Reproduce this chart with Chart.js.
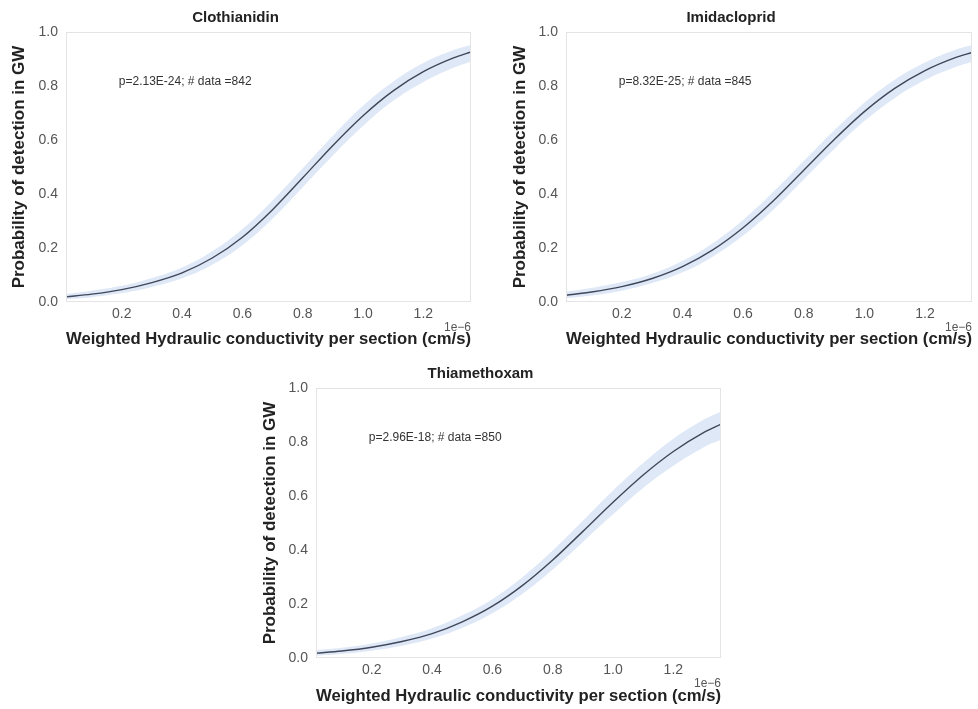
<!DOCTYPE html>
<html>
<head>
<meta charset="utf-8">
<script src="https://cdn.jsdelivr.net/npm/chart.js@4.4.1/dist/chart.umd.min.js"></script>
<style>
  body { margin: 0; background: #fff; }
  #wrap { position: relative; width: 978px; height: 709px; }
  .box { position: absolute; }
</style>
</head>
<body>
<div id="wrap">
  <div class="box" style="left:0;top:0;width:490px;height:355px"><canvas id="c1"></canvas></div>
  <div class="box" style="left:490px;top:0;width:488px;height:355px"><canvas id="c2"></canvas></div>
  <div class="box" style="left:240px;top:355px;width:500px;height:354px"><canvas id="c3"></canvas></div>
</div>
<script>
// ---- data (x in units of 1e-6 cm/s) ----
var titles = ['Clothianidin', 'Imidacloprid', 'Thiamethoxam'];
var notes = ['p=2.13E-24; # data =842', 'p=8.32E-25; # data =845', 'p=2.96E-18; # data =850'];
var xTicks = [0.2, 0.4, 0.6, 0.8, 1.0, 1.2];
var yTicks = [0.0, 0.2, 0.4, 0.6, 0.8, 1.0];

var x1 = [0.015, 0.1, 0.2, 0.3, 0.4, 0.5, 0.6, 0.7, 0.8, 0.9, 1.0, 1.1, 1.2, 1.3, 1.358];
var p1 = [0.019, 0.029, 0.046, 0.072, 0.108, 0.163, 0.240, 0.342, 0.460, 0.580, 0.690, 0.782, 0.853, 0.904, 0.926];
var lo1 = [0.010, 0.018, 0.033, 0.056, 0.088, 0.138, 0.210, 0.308, 0.425, 0.543, 0.652, 0.745, 0.815, 0.868, 0.890];
var hi1 = [0.030, 0.042, 0.060, 0.089, 0.128, 0.188, 0.270, 0.376, 0.495, 0.616, 0.727, 0.816, 0.885, 0.933, 0.952];

var x2 = [0.016, 0.1, 0.2, 0.3, 0.4, 0.5, 0.6, 0.7, 0.8, 0.9, 1.0, 1.1, 1.2, 1.3, 1.355];
var p2 = [0.025, 0.037, 0.057, 0.087, 0.131, 0.193, 0.275, 0.375, 0.488, 0.601, 0.705, 0.791, 0.857, 0.905, 0.924];
var lo2 = [0.014, 0.024, 0.042, 0.070, 0.110, 0.168, 0.246, 0.342, 0.454, 0.566, 0.670, 0.755, 0.822, 0.870, 0.890];
var hi2 = [0.038, 0.052, 0.074, 0.105, 0.152, 0.218, 0.304, 0.408, 0.522, 0.635, 0.738, 0.823, 0.887, 0.934, 0.952];

var x3 = [0.015, 0.1, 0.2, 0.3, 0.4, 0.5, 0.6, 0.7, 0.8, 0.9, 1.0, 1.1, 1.2, 1.3, 1.358];
var p3 = [0.018, 0.026, 0.040, 0.061, 0.090, 0.134, 0.192, 0.269, 0.363, 0.469, 0.577, 0.678, 0.765, 0.835, 0.866];
var lo3 = [0.009, 0.015, 0.027, 0.045, 0.072, 0.112, 0.166, 0.238, 0.328, 0.430, 0.532, 0.630, 0.712, 0.780, 0.808];
var hi3 = [0.029, 0.038, 0.054, 0.078, 0.110, 0.158, 0.218, 0.300, 0.398, 0.508, 0.620, 0.722, 0.812, 0.882, 0.912];

var FONT = "'Liberation Sans', Arial, sans-serif";

function pts(xs, ys) {
  return xs.map(function (x, i) { return { x: x, y: ys[i] }; });
}

// frame around the plot, annotation text and the 1e-6 offset label
var extras = {
  id: 'extras',
  afterDraw: function (chart, args, opts) {
    var ctx = chart.ctx, a = chart.chartArea;
    ctx.save();
    ctx.strokeStyle = '#e4e4e4';
    ctx.lineWidth = 1;
    ctx.strokeRect(a.left + 0.5, a.top + 0.5, a.right - a.left - 1, a.bottom - a.top - 1);
    ctx.fillStyle = '#333';
    ctx.font = '12px ' + FONT;
    ctx.textBaseline = 'middle';
    ctx.textAlign = 'left';
    ctx.fillText(opts.note, chart.scales.x.getPixelForValue(0.19), chart.scales.y.getPixelForValue(0.815));
    ctx.fillStyle = '#555';
    ctx.textAlign = 'right';
    ctx.fillText('1e\u22126', a.right, a.bottom + 26);
    ctx.restore();
  }
};

function makeChart(id, k, xs, p, lo, hi, cfg) {
  new Chart(document.getElementById(id), {
    type: 'line',
    data: {
      datasets: [
        { data: pts(xs, lo), order: 2, borderWidth: 0, pointRadius: 0, fill: false, tension: 0.4 },
        { data: pts(xs, hi), order: 1, borderWidth: 0, pointRadius: 0, fill: '-1', tension: 0.4,
          backgroundColor: 'rgba(188,206,238,0.48)' },
        { data: pts(xs, p), order: 0, borderColor: '#3f475a', borderWidth: 1.4, pointRadius: 0, fill: false,
          cubicInterpolationMode: 'monotone' }
      ]
    },
    options: {
      responsive: true,
      maintainAspectRatio: false,
      animation: false,
      layout: { padding: { left: 0, right: cfg.padRight, top: 0, bottom: 0 } },
      plugins: {
        legend: { display: false },
        tooltip: { enabled: false },
        title: {
          display: true, text: titles[k], color: '#222',
          font: { family: FONT, size: 15, weight: 'bold' },
          padding: { top: cfg.titleTop, bottom: cfg.titleBottom }
        },
        extras: { note: notes[k] }
      },
      scales: {
        x: {
          type: 'linear', min: xs[0], max: xs[xs.length - 1],
          grid: { display: false, drawTicks: false }, border: { display: false },
          afterBuildTicks: function (s) { s.ticks = xTicks.map(function (v) { return { value: v }; }); },
          afterFit: function (s) { s.height = cfg.xHeight; },
          ticks: { color: '#555', padding: 4, maxRotation: 0, font: { family: FONT, size: 14 },
                   callback: function (v) { return v.toFixed(1); } },
          title: { display: true, text: 'Weighted Hydraulic conductivity per section (cm/s)', color: '#222',
                   font: { family: FONT, size: 17, weight: 'bold' }, padding: { top: 0, bottom: cfg.xTitleBottom } }
        },
        y: {
          min: 0, max: 1,
          grid: { display: false, drawTicks: false }, border: { display: false },
          afterBuildTicks: function (s) { s.ticks = yTicks.map(function (v) { return { value: v }; }); },
          afterFit: function (s) { s.width = cfg.yWidth; },
          ticks: { color: '#555', padding: 8, font: { family: FONT, size: 14 },
                   callback: function (v) { return v.toFixed(1); } },
          title: { display: true, text: 'Probability of detection in GW', color: '#222',
                   font: { family: FONT, size: 17, weight: 'bold' }, padding: { top: cfg.yTitleTop, bottom: 0 } }
        }
      }
    },
    plugins: [extras]
  });
}

makeChart('c1', 0, x1, p1, lo1, hi1, { padRight: 19, titleTop: 9, titleBottom: 5, xHeight: 53, xTitleBottom: 5, yWidth: 66, yTitleTop: 9 });
makeChart('c2', 1, x2, p2, lo2, hi2, { padRight: 6, titleTop: 9, titleBottom: 5, xHeight: 53, xTitleBottom: 5, yWidth: 76, yTitleTop: 20 });
makeChart('c3', 2, x3, p3, lo3, hi3, { padRight: 19, titleTop: 10, titleBottom: 5, xHeight: 51, xTitleBottom: 2, yWidth: 76, yTitleTop: 20 });
</script>
</body>
</html>
